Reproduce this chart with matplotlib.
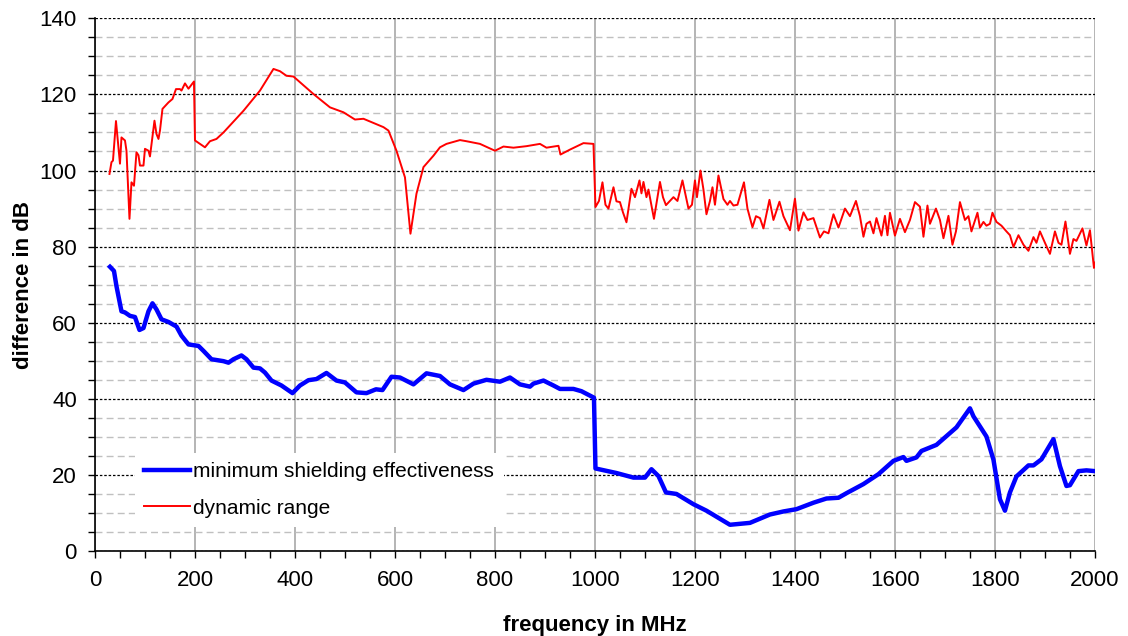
import numpy as np
import matplotlib
matplotlib.use('Agg')
import matplotlib.pyplot as plt
from matplotlib.ticker import MultipleLocator

plt.rcParams['font.family'] = ['Liberation Sans', 'DejaVu Sans']

# dynamic range (red)
red_f = [29, 33, 36, 42, 50, 53, 60, 63, 69, 73, 78, 83, 87, 90, 97, 100, 107, 110, 119, 123,
         127, 130, 135, 147, 155, 162, 170, 173, 180, 187, 198, 200, 220, 230, 243, 257, 297, 330, 357, 370,
         383, 397, 410, 437, 470, 497, 520, 537, 577, 587, 603, 620, 631, 643, 657, 677, 690, 703, 730, 743,
         770, 800, 817, 837, 863, 890, 903, 927, 931, 950, 977, 997,
         1001, 1008, 1015, 1021, 1027, 1037, 1043, 1050, 1056, 1063, 1073, 1080, 1089, 1093, 1097, 1103, 1107, 1118, 1130, 1136,
         1142, 1150, 1157, 1165, 1175, 1187, 1194, 1200, 1204, 1211, 1217, 1223, 1230, 1235, 1240, 1247, 1257, 1265, 1270, 1277,
         1285, 1298, 1305, 1315, 1322, 1330, 1337, 1349, 1357, 1369, 1377, 1390, 1400, 1407, 1417, 1425, 1437, 1450, 1458, 1467,
         1477, 1487, 1500, 1510, 1522, 1530, 1537, 1543, 1550, 1557, 1563, 1573, 1580, 1585, 1590, 1600, 1610, 1620, 1630, 1640,
         1650, 1657, 1665, 1670, 1682, 1690, 1697, 1707, 1715, 1722, 1730, 1740, 1747, 1753, 1765, 1770, 1777, 1783, 1790, 1795,
         1803, 1813, 1823, 1830, 1837, 1847, 1857, 1867, 1877, 1883, 1890, 1900, 1910, 1920, 1927, 1933, 1941, 1950, 1957, 1963,
         1975, 1983, 1990, 1998, 2000]
red_v = [99.1, 102.2, 102.6, 113, 101.8, 108.7, 107.9, 105.2, 87.3, 96.9, 96, 104.8, 104, 101.3, 101.3, 105.7, 105.2, 103.7, 113.1, 109.6,
         108.3, 110.5, 116.2, 117.9, 118.8, 121.4, 121.4, 121, 122.9, 121.5, 123.4, 107.9, 106.1, 107.7, 108.3, 110, 115.7, 121, 126.7, 126.1,
         124.9, 124.7, 123.2, 120.1, 116.6, 115.3, 113.4, 113.6, 111.4, 110.5, 105.2, 98.2, 83.4, 93.9, 100.9, 103.9, 106.1, 107, 108, 107.7,
         107, 105.2, 106.3, 106, 106.4, 107, 106, 106.5, 104.2, 105.5, 107.2, 107,
         90.4, 92, 96.9, 91, 90, 95.6, 91.9, 91.7, 89, 86.4, 95.2, 93, 97.4, 94, 97, 93, 95, 87.3, 97, 93,
         90.9, 92, 93, 92, 97.4, 90, 91, 97.4, 93, 100, 95, 88.5, 92, 95.6, 91, 98.7, 92.5, 91, 92, 90.8,
         91, 96.9, 90, 85.1, 88, 87.5, 84.8, 92.3, 87, 91.8, 88, 84.3, 92.6, 84.2, 89, 87, 87.5, 82.4, 84, 83.5,
         88.5, 85, 90, 88, 92, 88, 82.6, 86, 86.6, 83.5, 87.5, 82.9, 88.1, 83, 88.9, 82.9, 87.3, 83.8, 87, 91.7,
         90.5, 82.6, 90.8, 86, 90, 87, 82.2, 88.1, 80.5, 84, 91.7, 87, 88, 84, 88.9, 85, 86.5, 85.5, 86, 88.9,
         86.5, 85.5, 84, 83, 79.9, 83, 80.5, 78.9, 82.5, 81, 84, 81, 78.1, 84, 81, 80.5, 86.6, 78.1, 82, 81.5,
         84.8, 80.3, 84.3, 74.4, 75.8]

# minimum shielding effectiveness (blue)
blue_f = [30, 38, 43, 53, 60, 70, 80, 89, 97, 107, 115, 123, 133, 147, 163, 173, 187, 207, 217, 233,
          257, 267, 277, 293, 303, 317, 330, 340, 353, 373, 395, 410, 427, 443, 463, 483, 500, 523, 543, 562,
          575, 593, 610, 637, 663, 690, 710, 737, 757, 783, 810, 830, 850, 870, 877, 897, 917, 930, 957, 973,
          998, 1001, 1043, 1077, 1100, 1113, 1127, 1142, 1163, 1197, 1223, 1270, 1310, 1350, 1377, 1403, 1437, 1463, 1487, 1503,
          1537, 1567, 1597, 1617, 1623, 1643, 1653, 1683, 1723, 1750, 1757, 1783, 1797, 1810, 1820, 1830, 1843, 1867, 1877, 1893,
          1917, 1930, 1943, 1950, 1967, 1983, 2000]
blue_v = [74.7, 73.6, 69.6, 63, 62.7, 61.8, 61.5, 58.1, 58.6, 63, 65.1, 63.5, 60.9, 60.2, 59, 56.6, 54.3, 53.9, 52.6, 50.4,
          49.9, 49.5, 50.4, 51.4, 50.4, 48.2, 48, 46.9, 44.8, 43.5, 41.5, 43.5, 44.9, 45.2, 46.8, 44.8, 44.3, 41.7, 41.5, 42.5,
          42.3, 45.8, 45.6, 43.8, 46.7, 46, 43.8, 42.3, 44, 45, 44.5, 45.6, 43.8, 43.2, 44, 44.8, 43.5, 42.6, 42.6, 42,
          40.3, 21.7, 20.5, 19.3, 19.3, 21.5, 19.7, 15.4, 15, 12.3, 10.6, 6.9, 7.4, 9.6, 10.4, 11, 12.7, 13.8, 14, 15.2,
          17.6, 20.2, 23.7, 24.7, 23.7, 24.6, 26.3, 27.9, 32.5, 37.5, 35.4, 30.1, 24, 13.6, 10.6, 15.4, 19.6, 22.5, 22.5, 24.1,
          29.4, 22.3, 17.1, 17.3, 21, 21.2, 21]

fig = plt.figure(figsize=(11.28, 6.36), dpi=100)
ax = fig.add_axes([0.0842, 0.1336, 0.8865, 0.8376])

ax.plot(blue_f, blue_v, color='#0000ff', lw=3.2, label='minimum shielding effectiveness', zorder=3)
ax.plot(red_f, red_v, color='#ff0000', lw=1.4, label='dynamic range', zorder=3)

ax.set_xlim(0, 2000)
ax.set_ylim(0, 140)
ax.xaxis.set_major_locator(MultipleLocator(200))
ax.xaxis.set_minor_locator(MultipleLocator(50))
ax.yaxis.set_major_locator(MultipleLocator(20))
ax.yaxis.set_minor_locator(MultipleLocator(5))

ax.grid(axis='x', which='major', color='#a0a0a0', lw=1.1, linestyle='-')
ax.grid(axis='y', which='major', color='black', lw=0.9, linestyle=(0, (2, 1.5)))
ax.grid(axis='y', which='minor', color='#c0c0c0', lw=1.0, linestyle=(0, (5, 3)))
ax.set_axisbelow(True)

for s in ['top', 'right']:
    ax.spines[s].set_visible(False)
ax.spines['left'].set_linewidth(1.2)
ax.spines['bottom'].set_linewidth(1.2)
ax.tick_params(which='both', direction='out', length=5, width=1, labelsize=16)
ax.tick_params(axis='x', pad=9)
ax.tick_params(axis='y', pad=8)

ax.set_xlabel('frequency in MHz', fontsize=16, fontweight='bold', labelpad=17)
ax.set_ylabel('difference in dB', fontsize=16, fontweight='bold', labelpad=4)

leg = ax.legend(loc='lower left', bbox_to_anchor=(0.04, 0.045), borderaxespad=0, fontsize=15,
                frameon=True, fancybox=False, edgecolor='none', facecolor='white', framealpha=1,
                handlelength=2.2, handletextpad=0.15, borderpad=0.45, labelspacing=0.85)

fig.savefig('out.png', dpi=100)
